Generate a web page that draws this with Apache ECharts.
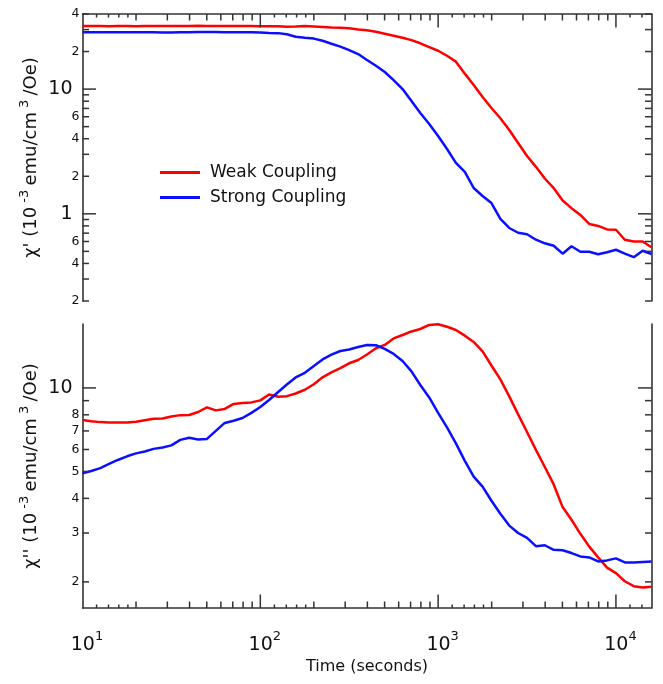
<!DOCTYPE html>
<html><head><meta charset="utf-8">
<script src="https://cdn.jsdelivr.net/npm/echarts@6/dist/echarts.min.js"></script>
<style>html,body{margin:0;padding:0;background:#fff}#c{width:663px;height:684px}</style>
</head><body><div id="c"></div>
<script>
// ---- data ----
const times = [10, 11.2, 12.6, 14.1, 15.8, 17.8, 20, 22.4, 25.1, 28.2, 31.6, 35.5, 39.8, 44.7, 50.1, 56.2, 63.1, 70.8, 79.4, 89.1,
  100, 112, 126, 141, 158, 178, 200, 224, 251, 282, 316, 355, 398, 447, 501, 562, 631, 708, 794, 891,
  1000, 1122, 1259, 1413, 1585, 1778, 1995, 2239, 2512, 2818, 3162, 3548, 3981, 4467, 5012, 5623, 6310, 7079, 7943, 8913,
  10000, 11220, 12589, 14125, 15849];
const weakReal = [32.0,32.0,32.0,31.9,32.0,32.0,31.9,32.0,32.0,32.1,32.0,32.1,32.1,32.2,32.1,32.1,32.0,32.0,32.0,32.0,31.9,
  31.9,31.9,31.6,31.7,32.0,31.8,31.5,31.2,31.0,30.8,30.1,29.6,28.8,27.8,26.8,25.8,24.7,23.3,21.7,20.3,18.5,16.6,13.3,10.8,
  8.63,7.05,5.84,4.70,3.70,2.91,2.38,1.92,1.61,1.28,1.11,0.98,0.83,0.80,0.75,0.745,0.62,0.60,0.60,0.54];
const strongReal = [28.6,28.6,28.6,28.6,28.6,28.6,28.5,28.5,28.5,28.4,28.4,28.5,28.6,28.7,28.7,28.7,28.6,28.6,28.6,28.6,
  28.4,28.2,28.1,27.5,26.3,25.8,25.4,24.4,23.1,21.9,20.5,19.1,17.1,15.4,13.7,11.8,10.0,8.02,6.43,5.25,
  4.21,3.31,2.56,2.17,1.61,1.39,1.22,0.91,0.77,0.705,0.686,0.62,0.58,0.555,0.479,0.55,0.497,0.497,0.474,0.492,
  0.515,0.479,0.449,0.506,0.476];
const weakImag = [7.67,7.59,7.53,7.50,7.50,7.50,7.55,7.65,7.74,7.76,
  7.89,7.98,7.99,8.19,8.51,8.30,8.40,8.76,8.83,8.87,
  9.02,9.47,9.30,9.34,9.55,9.85,10.31,10.92,11.37,11.78,
  12.27,12.61,13.20,13.90,14.29,15.08,15.52,15.98,16.31,16.87,
  16.96,16.62,16.18,15.43,14.65,13.54,12.05,10.73,9.32,8.03,
  6.94,5.98,5.19,4.49,3.72,3.35,2.98,2.68,2.45,2.25,
  2.15,2.01,1.93,1.91,1.92];
const strongImag = [4.92,5.02,5.14,5.32,5.50,5.67,5.81,5.90,6.03,6.10,
  6.21,6.50,6.61,6.52,6.55,7.00,7.48,7.62,7.79,8.13,
  8.54,9.05,9.67,10.29,10.91,11.34,12.00,12.67,13.18,13.59,
  13.75,14.05,14.29,14.25,13.82,13.26,12.51,11.47,10.25,9.24,
  8.13,7.21,6.31,5.46,4.79,4.41,3.92,3.52,3.19,3.00,
  2.88,2.69,2.71,2.61,2.60,2.54,2.47,2.45,2.37,2.39,
  2.43,2.35,2.35,2.36,2.37];
const seriesNames = ['Weak Coupling', 'Strong Coupling'];
const seriesColors = ['#ff0000', '#0a10ff'];

// tick labels / tick positions
const yTopLabelValues = [0.2, 0.4, 0.6, 1, 2, 4, 6, 10, 20, 40];
const yTopLabelTexts  = ['2', '4', '6', '1', '2', '4', '6', '10', '2', '4'];
const yTopBigLabels   = [1, 10];
const yTopMinorTicks  = [0.2,0.3,0.4,0.5,0.6,0.7,0.8,0.9,2,3,4,5,6,7,8,9,20,30,40];
const yTopMajorTicks  = [1, 10];
const yBotLabelValues = [2, 3, 4, 5, 6, 7, 8, 10];
const yBotLabelTexts  = ['2', '3', '4', '5', '6', '7', '8', '10'];
const yBotBigLabels   = [10];
const yBotMinorTicks  = [2, 3, 4, 5, 6, 7, 8, 9];
const yBotMajorTicks  = [10];
const xLabelValues = [10, 100, 1000, 10000];
const xLabelExps   = ['1', '2', '3', '4'];
const xMajorTicks  = [100, 1000, 10000];
const xMinorTicks  = [20,30,40,50,60,70,80,90,200,300,400,500,600,700,800,900,2000,3000,4000,5000,6000,7000,8000,9000];
const xSmallTicks  = [12,14,16,18,120,140,160,180,1200,1400,1600,1800,12000,14000];
const yTopName = "{a|χ' (10}{s| -3 }{a|emu/cm}{s| 3 }{a|/Oe)}";
const yBotName = "{a|χ'' (10}{s| -3 }{a|emu/cm}{s| 3 }{a|/Oe)}";
const xName = 'Time (seconds)';

// ---- chart ----
const FONT = 'DejaVu Sans';
const AX = '#333333';
const X_MIN = 10, X_MAX = 15849;
const YT_MIN = 0.2, YT_MAX = 40;
const YB_MIN = 1.61, YB_MAX = 17;
const TICK_MAJOR = 13.5, TICK_MINOR = 6.5, TICK_SMALL = 3.5;

function findLabel(vals, texts, v) {
  for (let i = 0; i < vals.length; i++) if (Math.abs(vals[i] - v) / vals[i] < 1e-6) return texts[i];
  return '';
}
function yFormatter(vals, texts, big) {
  return function (v) {
    const t = findLabel(vals, texts, v);
    const isBig = big.some(b => Math.abs(b - v) / b < 1e-6);
    return isBig ? '{big|' + t + '}' : '{sm|' + t + '}';
  };
}
const yRich = {
  big: { fontSize: 19, fontFamily: FONT, color: '#111', padding: [0, 7, 0, 0] },
  sm: { fontSize: 12.5, fontFamily: FONT, color: '#111' }
};
function mainAxis(grid, pos, min, max, extra) {
  return Object.assign({
    type: 'log', logBase: 10, gridIndex: grid, position: pos, min: min, max: max,
    axisLine: { show: true, onZero: false, lineStyle: { color: AX, width: 1.6 } },
    axisTick: { show: false }, axisLabel: { show: false }, splitLine: { show: false }
  }, extra || {});
}
const nameRich = {
  a: { fontSize: 18, fontFamily: FONT, color: '#111' },
  s: { fontSize: 13, fontFamily: FONT, color: '#111', verticalAlign: 'top', padding: [0, 0, 13, 0] }
};

const xAxes = [
  mainAxis(0, 'top', X_MIN, X_MAX),
  mainAxis(1, 'bottom', X_MIN, X_MAX, {
    axisLabel: {
      show: true, customValues: xLabelValues, margin: 22,
      formatter: function (v) { return '{b|10}{s|' + findLabel(xLabelValues, xLabelExps, v) + '}'; },
      rich: {
        b: { fontSize: 19, fontFamily: FONT, color: '#111', padding: [0, 0, 0, 9], verticalAlign: 'bottom' },
        s: { fontSize: 13, fontFamily: FONT, color: '#111', verticalAlign: 'top', padding: [0, 0, 12, 0] }
      }
    },
    name: xName, nameLocation: 'middle', nameGap: 51, nameMoveOverlap: false,
    nameTextStyle: { fontSize: 16, fontFamily: FONT, color: '#111' }
  })
];
const yAxes = [
  mainAxis(0, 'left', YT_MIN, YT_MAX, {
    axisLabel: { show: true, customValues: yTopLabelValues, margin: 3, formatter: yFormatter(yTopLabelValues, yTopLabelTexts, yTopBigLabels), rich: yRich },
    name: yTopName, nameLocation: 'middle', nameGap: 38, nameMoveOverlap: false,
    nameTextStyle: { rich: nameRich }
  }),
  mainAxis(1, 'left', YB_MIN, YB_MAX, {
    axisLabel: { show: true, customValues: yBotLabelValues, margin: 3, formatter: yFormatter(yBotLabelValues, yBotLabelTexts, yBotBigLabels), rich: yRich },
    name: yBotName, nameLocation: 'middle', nameGap: 38, nameMoveOverlap: false,
    nameTextStyle: { rich: nameRich }
  }),
  mainAxis(0, 'right', YT_MIN, YT_MAX),
  mainAxis(1, 'right', YB_MIN, YB_MAX)
];

function pairs(ys) { return times.map((t, i) => [t, ys[i]]); }
function line(name, color, xi, yi, ys) {
  return {
    name: name, type: 'line', xAxisIndex: xi, yAxisIndex: yi, data: pairs(ys),
    showSymbol: false, symbol: 'none', smooth: false, clip: true,
    lineStyle: { color: color, width: 2.5 }, itemStyle: { color: color },
    emphasis: { disabled: true }
  };
}

const chart = echarts.init(document.getElementById('c'), null, { renderer: 'canvas' });
chart.setOption({
  animation: false,
  backgroundColor: '#fff',
  grid: [
    { left: 82.5, top: 14, width: 569, height: 287, containLabel: false, outerBoundsMode: 'none' },
    { left: 82.5, top: 324, width: 569, height: 284, containLabel: false, outerBoundsMode: 'none' }
  ],
  legend: {
    data: seriesNames, orient: 'vertical', left: 160, top: 164, itemGap: 8, padding: 0,
    icon: 'rect', itemWidth: 40, itemHeight: 3, selectedMode: false,
    textStyle: { fontSize: 17, fontFamily: FONT, color: '#111', padding: [0, 0, 0, 5] }
  },
  xAxis: xAxes,
  yAxis: yAxes,
  series: [
    line(seriesNames[0], seriesColors[0], 0, 0, weakReal),
    line(seriesNames[1], seriesColors[1], 0, 0, strongReal),
    line(seriesNames[0], seriesColors[0], 1, 1, weakImag),
    line(seriesNames[1], seriesColors[1], 1, 1, strongImag)
  ]
});

// ---- ticks: positions come from the chart's own axis scales (convertToPixel) ----
function px(grid, x, y) { return chart.convertToPixel({ xAxisIndex: grid, yAxisIndex: grid }, [x, y]); }
function seg(x1, y1, x2, y2) {
  return { type: 'line', silent: true, z: 50, shape: { x1: x1, y1: y1, x2: x2, y2: y2 },
    style: { stroke: AX, lineWidth: 1.5 } };
}
const tickEls = [];
function addXTicks(grid, ticks, len, yMin, yMax, atTop) {
  const yMid = Math.sqrt(yMin * yMax);
  const edge = atTop ? px(grid, X_MIN, yMax)[1] : px(grid, X_MIN, yMin)[1];
  ticks.forEach(t => {
    const x = px(grid, t, yMid)[0];
    tickEls.push(seg(x, edge, x, atTop ? edge + len : edge - len));
  });
}
function addYTicks(grid, ticks, len, yMin) {
  const left = px(grid, X_MIN, yMin)[0], right = px(grid, X_MAX, yMin)[0];
  ticks.forEach(v => {
    const y = px(grid, 300, v)[1];
    tickEls.push(seg(left, y, left + len, y));
    tickEls.push(seg(right, y, right - len, y));
  });
}
addXTicks(0, xMajorTicks, TICK_MAJOR, YT_MIN, YT_MAX, true);
addXTicks(0, xMinorTicks, TICK_MINOR, YT_MIN, YT_MAX, true);
addXTicks(0, xSmallTicks, TICK_SMALL, YT_MIN, YT_MAX, true);
addXTicks(1, xMajorTicks, TICK_MAJOR, YB_MIN, YB_MAX, false);
addXTicks(1, xMinorTicks, TICK_MINOR, YB_MIN, YB_MAX, false);
addXTicks(1, xSmallTicks, TICK_SMALL, YB_MIN, YB_MAX, false);
addYTicks(0, yTopMajorTicks, TICK_MAJOR, YT_MIN);
addYTicks(0, yTopMinorTicks, TICK_MINOR, YT_MIN);
addYTicks(1, yBotMajorTicks, TICK_MAJOR, YB_MIN);
addYTicks(1, yBotMinorTicks, TICK_MINOR, YB_MIN);
chart.setOption({ graphic: { elements: tickEls } });
</script></body></html>
